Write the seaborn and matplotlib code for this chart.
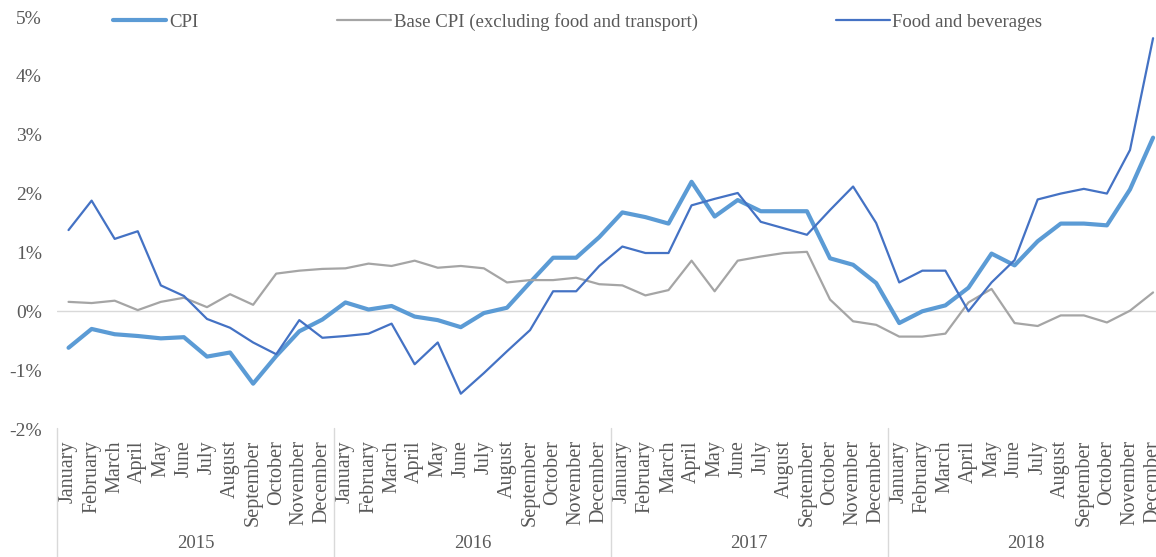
import pandas as pd
import seaborn as sns
import matplotlib.pyplot as plt
from matplotlib.transforms import blended_transform_factory

# Monthly inflation (%) 2015-2018
months = ["January", "February", "March", "April", "May", "June", "July",
          "August", "September", "October", "November", "December"]
years = ["2015", "2016", "2017", "2018"]

cpi = [-0.62, -0.30, -0.39, -0.42, -0.46, -0.44, -0.77, -0.70, -1.23, -0.76, -0.34, -0.14,
       0.15, 0.03, 0.09, -0.09, -0.15, -0.27, -0.03, 0.06, 0.49, 0.91, 0.91, 1.26,
       1.68, 1.60, 1.49, 2.20, 1.61, 1.89, 1.70, 1.70, 1.70, 0.90, 0.79, 0.48,
       -0.20, 0.00, 0.10, 0.40, 0.98, 0.78, 1.19, 1.49, 1.49, 1.46, 2.07, 2.95]
base_cpi = [0.16, 0.14, 0.18, 0.02, 0.16, 0.23, 0.07, 0.29, 0.11, 0.64, 0.69, 0.72,
            0.73, 0.81, 0.77, 0.86, 0.74, 0.77, 0.73, 0.49, 0.53, 0.53, 0.57, 0.46,
            0.44, 0.27, 0.36, 0.86, 0.34, 0.86, 0.93, 0.99, 1.01, 0.20, -0.17, -0.23,
            -0.43, -0.43, -0.38, 0.15, 0.38, -0.20, -0.25, -0.07, -0.07, -0.19, 0.01, 0.32]
food = [1.38, 1.88, 1.23, 1.36, 0.44, 0.26, -0.13, -0.28, -0.53, -0.73, -0.15, -0.45,
        -0.42, -0.38, -0.21, -0.90, -0.53, -1.40, -1.05, -0.68, -0.32, 0.34, 0.34, 0.77,
        1.10, 0.99, 0.99, 1.80, 1.91, 2.01, 1.52, 1.41, 1.30, 1.72, 2.12, 1.50,
        0.49, 0.69, 0.69, 0.00, 0.49, 0.87, 1.90, 2.00, 2.08, 2.00, 2.74, 4.64]

names = ["CPI", "Base CPI (excluding food and transport)", "Food and beverages"]
colors = ["#5B9BD5", "#A5A5A5", "#4472C4"]
widths = [3.0, 1.6, 1.6]

n = len(cpi)
df = pd.DataFrame({"idx": list(range(n)) * 3,
                   "value": cpi + base_cpi + food,
                   "series": [names[0]] * n + [names[1]] * n + [names[2]] * n})

sns.set_style("white")
plt.rcParams["font.family"] = ["Liberation Serif", "DejaVu Serif"]
txt = "#595959"

fig = plt.figure(figsize=(11.56, 5.57), dpi=100)
ax = fig.add_axes([57 / 1156, 1 - 429 / 557, (1164.6 - 57) / 1156, (429 - 17) / 557])

# zero line first so the series draw over it
ax.axhline(0, color="#D9D9D9", lw=1.0, zorder=1)
for name, c, w in zip(names, colors, widths):
    sns.lineplot(data=df[df["series"] == name], x="idx", y="value", color=c,
                 linewidth=w, ax=ax, label=name, zorder=3)

ax.set_xlim(-0.5, n - 0.5)
ax.set_ylim(-2, 5)
ax.set_yticks(range(-2, 6))
ax.set_yticklabels([f"{v}%" for v in range(-2, 6)], fontsize=14, color=txt)
ax.set_xticks(range(n))
ax.set_xticklabels(months * len(years), rotation=90, fontsize=14.5, color=txt,
                   va="top", ha="center")
ax.tick_params(axis="both", length=0)
ax.tick_params(axis="x", pad=8)
ax.tick_params(axis="y", pad=11)
ax.set_xlabel("")
ax.set_ylabel("")
for s in ax.spines.values():
    s.set_visible(False)

# year group labels and separators under the month labels
tr = blended_transform_factory(ax.transData, fig.transFigure)
for i, yr in enumerate(years):
    ax.text(12 * i + 5.5, 1 - 543 / 557, yr, transform=tr, ha="center", va="center",
            fontsize=13.5, color=txt, clip_on=False)
for i in range(len(years) + 1):
    ax.plot([12 * i - 0.5] * 2, [1 - 428 / 557, 0], transform=tr, color="#D9D9D9",
            lw=1.0, clip_on=False)

handles, labels = ax.get_legend_handles_labels()
ax.get_legend().remove()
fig.legend(handles, labels, loc="center left", bbox_to_anchor=(113 / 1156, 1 - 22 / 557),
           ncol=3, frameon=False, fontsize=13.5, labelcolor=txt, handlelength=2.85,
           handletextpad=0.15, columnspacing=7.4, borderpad=0, borderaxespad=0)

fig.savefig("out.png", dpi=100)
